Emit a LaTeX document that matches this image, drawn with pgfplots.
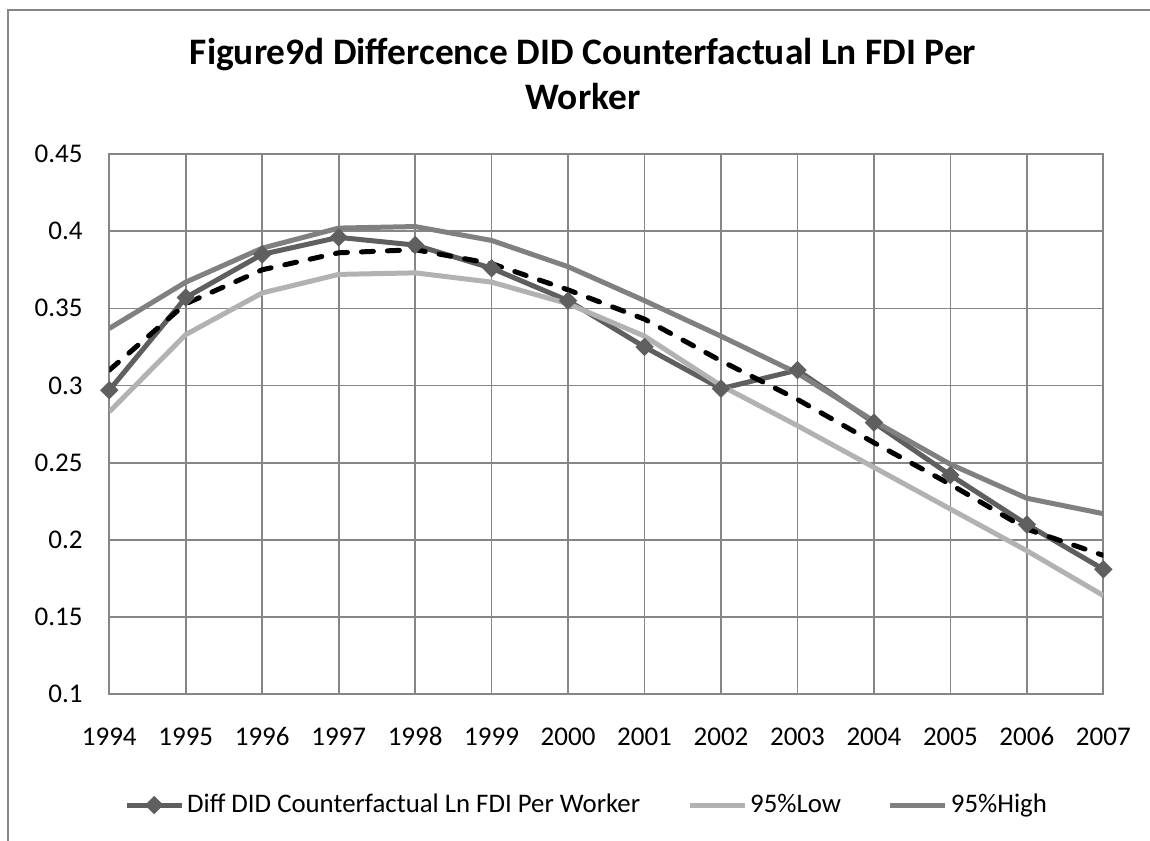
\documentclass[border=0pt]{standalone}
\usepackage{fontspec}
\setmainfont{Carlito}
\usepackage{pgfplots}
\pgfplotsset{compat=1.18}

\definecolor{gridgray}{HTML}{868686}
\definecolor{diffgray}{HTML}{5F5F5F}
\definecolor{lowgray}{HTML}{B2B2B2}
\definecolor{highgray}{HTML}{808080}

\begin{document}
\begin{tikzpicture}
\useasboundingbox (-54.65pt,-72.85pt) rectangle (520.35pt,347.15pt);
% chart area frame (only left and top edges are inside the picture)
\draw[gridgray, line width=1pt] (-50.65pt,-80pt) -- (-50.65pt,342.15pt) -- (530pt,342.15pt);

\begin{axis}[
    scale only axis,
    width=497pt, height=270.15pt,
    xmin=1994, xmax=2007,
    ymin=0.1, ymax=0.45,
    xtick={1994,1995,1996,1997,1998,1999,2000,2001,2002,2003,2004,2005,2006,2007},
    ytick={0.1,0.15,0.2,0.25,0.3,0.35,0.4,0.45},
    yticklabels={0.1,0.15,0.2,0.25,0.3,0.35,0.4,0.45},
    /pgf/number format/1000 sep={},
    /pgf/number format/assume math mode=true,
    grid=major,
    major grid style={gridgray, line width=0.85pt},
    axis line style={gridgray, line width=0.85pt},
    major tick length=0pt,
    tick label style={font=\fontsize{13.5}{16}\selectfont},
    xticklabel style={anchor=base, inner sep=0pt, yshift=-25.6pt},
    yticklabel style={anchor=base east, inner sep=0pt, xshift=-13.15pt, yshift=-4.25pt},
    legend columns=3,
    legend style={at={(0.4806,-0.2049)}, anchor=center, draw=none,
        font=\fontsize{13.4}{16}\selectfont,
        nodes={inner xsep=1.5pt},
        /tikz/every even column/.append style={column sep=22pt}},
    legend image code/.code={\draw[mark repeat=2, mark phase=2, #1]
        plot coordinates {(0pt,0pt) (13.75pt,0pt) (27.5pt,0pt)};},
]
% Diff DID Counterfactual
\addplot[diffgray, line width=2.5pt, mark=square*, mark size=3pt,
    mark options={rotate=45, fill=diffgray, draw=diffgray, line width=0.5pt}] coordinates {
    (1994,0.297) (1995,0.357) (1996,0.385) (1997,0.396) (1998,0.391) (1999,0.376) (2000,0.355)
    (2001,0.325) (2002,0.298) (2003,0.310) (2004,0.276) (2005,0.242) (2006,0.210) (2007,0.181)
};
\addlegendentry{Diff DID Counterfactual Ln FDI Per Worker}
% 95% low
\addplot[lowgray, line width=2.5pt, no marks] coordinates {
    (1994,0.283) (1995,0.333) (1996,0.360) (1997,0.372) (1998,0.373) (1999,0.367) (2000,0.353)
    (2001,0.332) (2002,0.300) (2003,0.274) (2004,0.247) (2005,0.220) (2006,0.193) (2007,0.164)
};
\addlegendentry{95\%Low}
% 95% high
\addplot[highgray, line width=2.5pt, no marks] coordinates {
    (1994,0.337) (1995,0.367) (1996,0.389) (1997,0.402) (1998,0.403) (1999,0.394) (2000,0.377)
    (2001,0.355) (2002,0.332) (2003,0.308) (2004,0.277) (2005,0.249) (2006,0.227) (2007,0.217)
};
\addlegendentry{95\%High}
% trend line (no legend entry)
\addplot[black, line width=2.5pt, no marks, line cap=round, dash pattern=on 6pt off 7pt, forget plot] coordinates {
    (1994,0.310) (1995,0.353) (1996,0.375) (1997,0.386) (1998,0.388) (1999,0.379) (2000,0.362)
    (2001,0.343) (2002,0.316) (2003,0.291) (2004,0.263) (2005,0.236) (2006,0.207) (2007,0.190)
};
\end{axis}

\node[anchor=base, font=\fontsize{18.7}{22}\selectfont\bfseries] at (236.85pt,314.65pt)
    {Figure9d Differcence DID Counterfactual Ln FDI Per};
\node[anchor=base, font=\fontsize{18.7}{22}\selectfont\bfseries] at (236.85pt,292.15pt) {Worker};
\end{tikzpicture}
\end{document}
